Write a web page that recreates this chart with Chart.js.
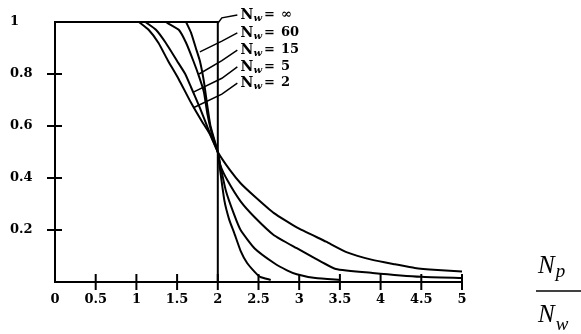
<!DOCTYPE html>
<html>
<head>
<meta charset="utf-8">
<script src="https://cdn.jsdelivr.net/npm/chart.js@4"></script>
<style>
  body { margin: 0; background: #fff; }
  #wrap { width: 581px; height: 334px; }
</style>
</head>
<body>
<div id="wrap"><canvas id="chart"></canvas></div>
<script>
// curves, [Np/Nw, fraction]
const nwInf = [[0, 1], [2, 1], [2, 0]];
const nw60 = [[1.61, 1], [1.67, 0.96], [1.73, 0.9], [1.78, 0.85], [1.83, 0.77], [1.87, 0.68], [1.91, 0.6], [2, 0.5],
  [2.02, 0.45], [2.08, 0.315], [2.14, 0.24], [2.2, 0.19], [2.28, 0.12], [2.36, 0.073], [2.45, 0.04], [2.52, 0.02], [2.65, 0.008]];
const nw15 = [[1.36, 1], [1.52, 0.97], [1.61, 0.92], [1.7, 0.85], [1.77, 0.79], [1.83, 0.73], [1.87, 0.65], [1.92, 0.58], [2, 0.5],
  [2.03, 0.45], [2.1, 0.35], [2.2, 0.26], [2.28, 0.2], [2.45, 0.13], [2.69, 0.073], [2.85, 0.045], [2.97, 0.03], [3.2, 0.015], [3.5, 0.008]];
const nw5 = [[1.11, 1], [1.24, 0.97], [1.36, 0.92], [1.5, 0.85], [1.6, 0.8], [1.67, 0.75], [1.78, 0.67], [1.88, 0.59], [2, 0.5],
  [2.03, 0.45], [2.12, 0.39], [2.28, 0.31], [2.45, 0.25], [2.69, 0.18], [2.97, 0.13], [3.2, 0.09], [3.45, 0.05], [3.9, 0.035], [4.5, 0.02], [5, 0.015]];
const nw2 = [[1.03, 1], [1.15, 0.97], [1.27, 0.92], [1.39, 0.85], [1.52, 0.78], [1.67, 0.69], [1.8, 0.62], [1.9, 0.57], [2, 0.5],
  [2.15, 0.43], [2.28, 0.38], [2.45, 0.33], [2.69, 0.265], [2.97, 0.21], [3.33, 0.155], [3.58, 0.115], [3.9, 0.085],
  [4.18, 0.068], [4.42, 0.054], [4.7, 0.046], [5, 0.04]];

// labels on the right of the curves and their pointer lines
const labelNames = ["\u221E", "60", "15", "5", "2"];
const labelY = [1.027, 0.958, 0.892, 0.827, 0.765];
const labelX = 2.28;
const leaderEnds = [[2.0, 0.995], [1.78, 0.885], [1.77, 0.8], [1.7, 0.73], [1.7, 0.67]];

const xTicks = [0.5, 1, 1.5, 2, 2.5, 3, 3.5, 4, 4.5, 5];
const yTicks = [0.2, 0.4, 0.6, 0.8];

const toPts = arr => arr.map(p => ({ x: p[0], y: p[1] }));

function curve(arr, tension) {
  return { data: toPts(arr), showLine: true, borderColor: "#000", borderWidth: 2, pointRadius: 0, tension: tension, clip: false, fill: false };
}

const leaders = labelY.map((y, i) => ({
  data: toPts([[labelX - 0.04, y], [2.05, (y + leaderEnds[i][1]) / 2 + 0.005], leaderEnds[i]]),
  showLine: true, borderColor: "#000", borderWidth: 1.5, pointRadius: 0, tension: 0, clip: false
}));

const fmt = v => String(+(+v).toFixed(1));

const crossTicks = {
  id: "crossTicks",
  afterDatasetsDraw(chart) {
    const { ctx, scales: { x, y } } = chart;
    ctx.save();
    ctx.strokeStyle = "#000";
    ctx.lineWidth = 2;
    yTicks.forEach(v => {
      const py = y.getPixelForValue(v);
      ctx.beginPath(); ctx.moveTo(x.left - 8, py); ctx.lineTo(x.left + 7, py); ctx.stroke();
    });
    xTicks.forEach(v => {
      const px = x.getPixelForValue(v);
      ctx.beginPath(); ctx.moveTo(px, y.bottom - 8); ctx.lineTo(px, y.bottom + 8); ctx.stroke();
    });

    // N_w = ... labels
    ctx.fillStyle = "#000";
    ctx.textBaseline = "middle";
    labelNames.forEach((name, i) => {
      let px = x.getPixelForValue(labelX);
      const py = y.getPixelForValue(labelY[i]);
      ctx.font = "bold 14px 'DejaVu Serif'";
      ctx.fillText("N", px, py);
      px += ctx.measureText("N").width;
      ctx.font = "bold italic 10px 'DejaVu Serif'";
      ctx.fillText("w", px, py + 3);
      px += ctx.measureText("w").width + 2;
      ctx.font = "bold 13px 'DejaVu Serif'";
      ctx.fillText("=", px, py);
      ctx.fillText(name, px + 17, py);
    });

    // axis title Np / Nw
    const fx = x.right + 76;
    ctx.textBaseline = "alphabetic";
    ctx.font = "italic 25px 'Liberation Serif'";
    ctx.fillText("N", fx, 273);
    ctx.fillText("N", fx, 322);
    const nw = ctx.measureText("N").width;
    ctx.font = "italic 19px 'Liberation Serif'";
    ctx.fillText("p", fx + nw + 1, 277);
    ctx.fillText("w", fx + nw + 1, 330);
    ctx.lineWidth = 1.5;
    ctx.beginPath(); ctx.moveTo(fx - 2, 291); ctx.lineTo(581, 291); ctx.stroke();
    ctx.restore();
  }
};

new Chart(document.getElementById("chart"), {
  type: "scatter",
  data: {
    datasets: [curve(nwInf, 0), curve(nw60, 0.15), curve(nw15, 0.15), curve(nw5, 0.15), curve(nw2, 0.15), ...leaders]
  },
  options: {
    responsive: true,
    maintainAspectRatio: false,
    animation: false,
    events: [],
    layout: { padding: { left: 10, top: 22, right: 119, bottom: 0 } },
    plugins: { legend: { display: false }, tooltip: { enabled: false } },
    scales: {
      x: {
        type: "linear", min: 0, max: 5,
        afterFit: s => { s.height = 52; },
        grid: { drawOnChartArea: false, drawTicks: false },
        border: { display: true, color: "#000", width: 2 },
        ticks: { stepSize: 0.5, padding: 10, color: "#000", maxRotation: 0, autoSkip: false,
          font: { family: "DejaVu Serif", weight: "bold", size: 13 }, callback: fmt }
      },
      y: {
        min: 0, max: 1,
        afterFit: s => { s.width = 45; },
        grid: { drawOnChartArea: false, drawTicks: false },
        border: { display: true, color: "#000", width: 2 },
        ticks: { stepSize: 0.2, crossAlign: "far", color: "#000", autoSkip: false,
          font: { family: "DejaVu Serif", weight: "bold", size: 13 },
          callback: v => (v === 0 ? "" : fmt(v)) }
      }
    }
  },
  plugins: [crossTicks]
});
</script>
</body>
</html>
